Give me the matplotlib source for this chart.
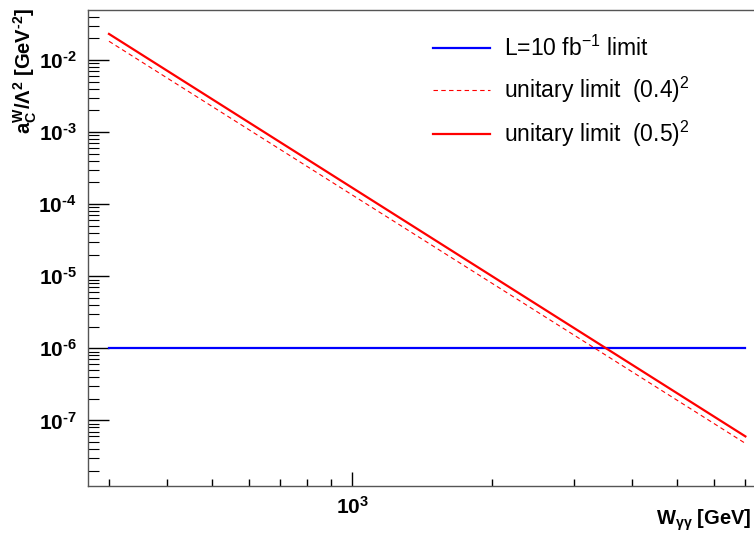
import math

import matplotlib
matplotlib.use("Agg")
import matplotlib.pyplot as plt
from matplotlib.ticker import LogLocator, NullFormatter, FuncFormatter

plt.rcParams.update({
    "font.family": ["Liberation Sans", "DejaVu Sans"],
    "mathtext.fontset": "custom",
    "mathtext.rm": "Liberation Sans:bold",
    "mathtext.it": "Liberation Sans:italic",
    "mathtext.bf": "Liberation Sans:bold",
    "mathtext.sf": "Liberation Sans",
})

# values
w_range = [300.0, 7000.0]            # W_gammagamma [GeV]
lumi_limit = [1.0e-6, 1.0e-6]        # L=10 fb^-1 limit
unitary_04 = [1.82e-2, 4.8e-8]       # (0.4)^2
unitary_05 = [2.30e-2, 6.0e-8]       # (0.5)^2
x_major = [1e3]
y_major = [1e-7, 1e-6, 1e-5, 1e-4, 1e-3, 1e-2]
labels = ["L=10 fb$^{\\mathsf{-1}}$ limit",
          "unitary limit  (0.4)$^{\\mathsf{2}}$",
          "unitary limit  (0.5)$^{\\mathsf{2}}$"]

W, H = 754, 534
fig = plt.figure(figsize=(W / 100, H / 100), dpi=100)
ax = fig.add_axes([88 / W, (H - 486) / H, (762 - 88) / W, 476 / H])

ax.plot(w_range, lumi_limit, color="#0000ff", lw=1.6, label=labels[0])
ax.plot(w_range, unitary_04, color="#ff0000", lw=0.8, ls=(0, (4, 3)), label=labels[1])
ax.plot(w_range, unitary_05, color="#ff0000", lw=1.6, label=labels[2])

ax.set_xscale("log")
ax.set_yscale("log")
ax.set_xlim(270.4, 7600)
ax.set_ylim(1.23e-8, 4.94e-2)

fmt = FuncFormatter(lambda v, p: r"$\mathbf{10^{\text{-}%d}}$" % abs(round(math.log10(v)))
                    if v < 1 else r"$\mathbf{10^{%d}}$" % round(math.log10(v)))
ax.set_xticks(x_major)
ax.set_yticks(y_major)
ax.xaxis.set_major_formatter(fmt)
ax.yaxis.set_major_formatter(fmt)
ax.xaxis.set_minor_locator(LogLocator(base=10, subs=range(2, 10), numticks=20))
ax.yaxis.set_minor_locator(LogLocator(base=10, subs=range(2, 10), numticks=20))
ax.xaxis.set_minor_formatter(NullFormatter())
ax.yaxis.set_minor_formatter(NullFormatter())

ax.tick_params(which="both", direction="in", top=False, right=False, color="black",
               labelsize=15)
ax.tick_params(axis="x", which="major", length=10, width=1, pad=7)
ax.tick_params(axis="x", which="minor", length=5, width=1)
ax.tick_params(axis="y", which="major", length=15, width=1, pad=8)
ax.tick_params(axis="y", which="minor", length=8, width=0.8)
for s in ax.spines.values():
    s.set_color("#555555")
    s.set_linewidth(1.0)
ax.spines["right"].set_visible(False)

fig.text(25 / W, 1 - 8 / H, r"$\mathbf{a_{C}^{W}/\Lambda^{2}\ [GeV^{\text{-}2}]}$",
         rotation=90, ha="center", va="top", fontsize=14.5)
fig.text(752 / W, 1 - 520 / H, r"$\mathbf{W_{\gamma\gamma}\ [GeV]}$",
         ha="right", va="center", fontsize=14.5)

leg = ax.legend(loc="upper left", bbox_to_anchor=(433 / W, 1 - 36 / H),
                bbox_transform=fig.transFigure, frameon=False, fontsize=16.5,
                handlelength=2.5, handletextpad=0.6, labelspacing=0.6,
                borderpad=0, borderaxespad=0)

fig.savefig("out.png", dpi=100)
